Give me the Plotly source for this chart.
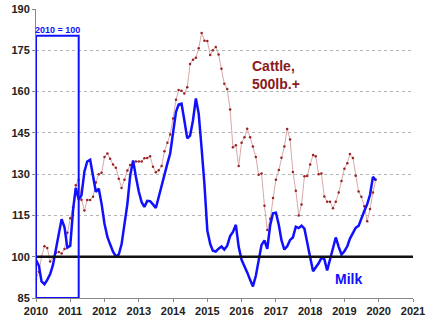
import pandas as pd
import plotly.graph_objects as go

months = pd.date_range("2010-01-01", periods=120, freq="MS")

cattle = [92, 94.5, 100, 103.8, 103.2, 98.3, 99.8, 101.4, 101.7, 101.2, 102.8, 108.7,
          114, 118, 126, 128, 120.7, 116.8, 120.6, 120.6, 121.8, 127, 130, 130.5,
          136.2, 137.5, 135.6, 133.5, 132.3, 128.3, 125, 128, 131.3, 133.3, 133.9, 134.6,
          134.6, 134.6, 135.8, 135.9, 136.5, 132.7, 130.7, 131.4, 133, 138.3, 141.4, 144.4,
          150.2, 157, 160.6, 160.3, 159.3, 161.6, 170, 171.6, 172.3, 175.7, 181.3, 178.5,
          178.4, 173.3, 175, 176.2, 173.5, 168.3, 162.8, 160.9, 153.5, 139.8, 140.5, 133,
          141.4, 143.4, 146.5, 143.4, 140, 136.2, 129.8, 130.2, 118.5, 109.7, 113.8, 121.3,
          128, 131.5, 136, 140, 146.4, 142.6, 130.8, 124, 115, 119, 129.2, 129.3,
          133.5, 137, 136.5, 130, 130.2, 121.9, 120, 120, 117.6, 120, 123.3, 127.5,
          132, 134, 137.3, 135.9, 129.4, 123.7, 121.8, 118.3, 112.9, 117.3, 123.3, 128]

milk = [98.8, 96.7, 91, 90, 91.6, 93.7, 97, 102, 108.3, 113.6, 110.7, 103.3,
        104, 117.4, 125, 120.8, 122.4, 131, 134.6, 135.2, 129.2, 123.6, 124.7, 119.2,
        112, 107.2, 104.5, 101.8, 100.1, 100.8, 104.5, 112, 119.2, 129.5, 135, 129,
        123.6, 119.7, 118.1, 120.3, 120.2, 119, 117.7, 121.7, 126, 130.5, 133.8, 137.5,
        146, 152.6, 155.3, 155.6, 149.6, 143, 144, 149.5, 157.5, 152, 139.4, 126.5,
        109.5, 104.6, 102.2, 101.9, 102.9, 103.7, 102.6, 104, 107.5, 109, 111.6, 103.6,
        98.9, 96.7, 94.3, 91.6, 89.2, 93.1, 99, 104.3, 105.9, 102.9, 111.4, 115.8,
        116, 111.5, 106, 102.6, 103.8, 106.1, 107, 110.9, 110.4, 111.3, 110.2, 105.6,
        99.8, 94.7, 96, 97.6, 99.6, 99.1, 95, 99.3, 103.6, 107, 103.6, 100.8,
        102, 103.8, 106.6, 108.7, 110.5, 111.2, 114.2, 116.6, 119.1, 122.5, 129, 127.8]

y_ticks = [85, 100, 115, 130, 145, 160, 175, 190]
x_ticks = [f"{y}-01-01" for y in range(2010, 2022)]
x_labels = [str(y) for y in range(2010, 2022)]

FONT = "Arial, Liberation Sans, sans-serif"
BLUE = "#1010ff"
DARKRED = "#8b1a1a"

fig = go.Figure()
fig.add_trace(go.Scatter(x=months, y=cattle, mode="lines+markers",
                         line=dict(color="#d8a8a8", width=1),
                         marker=dict(color="#9b2020", size=2.5),
                         showlegend=False, hoverinfo="skip"))
fig.add_trace(go.Scatter(x=months, y=milk, mode="lines",
                         line=dict(color=BLUE, width=2.5),
                         showlegend=False, hoverinfo="skip"))

# baseline at 100
fig.add_shape(type="line", xref="paper", x0=0, x1=1, yref="y", y0=100, y1=100,
              line=dict(color="#111111", width=2.5), layer="above")
# base-period box
fig.add_shape(type="rect", xref="x", yref="y", x0="2010-01-01", x1="2011-04-01",
              y0=85, y1=180.3, line=dict(color=BLUE, width=2), fillcolor="rgba(0,0,0,0)",
              layer="above")
fig.add_annotation(x="2010-08-15", y=180.3, text="<b>2010 = 100</b>", showarrow=False,
                   yanchor="bottom", font=dict(family=FONT, size=9, color=BLUE), yshift=-1)
fig.add_annotation(x="2016-04-01", y=166, text="<b>Cattle,<br>500lb.+</b>", showarrow=False,
                   xanchor="left", yanchor="middle", align="left",
                   font=dict(family=FONT, size=14, color=DARKRED))
fig.add_annotation(x="2019-02-15", y=92, text="<b>Milk</b>", showarrow=False,
                   font=dict(family=FONT, size=14, color=BLUE))

fig.update_layout(
    width=432, height=324,
    margin=dict(l=36, r=19, t=9, b=26, autoexpand=False),
    paper_bgcolor="white", plot_bgcolor="white",
    font=dict(family=FONT, size=11, color="#222222"),
)
fig.update_xaxes(type="date", range=["2010-01-01", "2021-01-01"], automargin=False,
                 tickvals=x_ticks, ticktext=[f"<b>{t}</b>" for t in x_labels],
                 showgrid=False, showline=True, linecolor="#888888", linewidth=1,
                 ticks="outside", ticklen=3, tickcolor="#888888", zeroline=False,
                 tickfont=dict(family=FONT, size=11, color="#222222"))
fig.update_yaxes(range=[85, 190], tickvals=y_ticks, automargin=False,
                 ticktext=[f"<b>{t}</b>" for t in y_ticks],
                 showgrid=True, gridcolor="#b4b4b4", griddash="dot", gridwidth=1,
                 showline=True, linecolor="#888888", linewidth=1,
                 ticks="outside", ticklen=3, tickcolor="#888888", zeroline=False,
                 tickfont=dict(family=FONT, size=11, color="#222222"))

fig.write_html("out.html")
